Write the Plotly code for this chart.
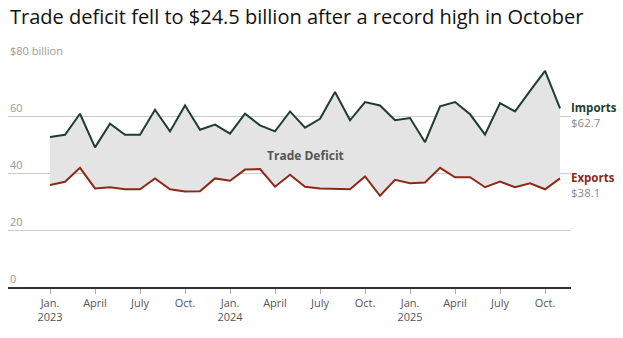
import plotly.graph_objects as go

months = list(range(35))  # Jan 2023 .. Nov 2025, monthly index
imports = [52.6, 53.4, 60.8, 49.0, 57.3, 53.4, 53.4, 62.2, 54.6, 63.7, 55.2, 57.0,
           53.8, 60.8, 56.7, 54.6, 61.6, 55.9, 59.0, 68.4, 58.5, 64.9, 63.7, 58.5,
           59.3, 50.8, 63.4, 64.9, 60.6, 53.5, 64.5, 61.6, 68.8, 75.8, 62.7]
exports = [35.8, 36.9, 41.8, 34.6, 35.0, 34.3, 34.3, 38.1, 34.3, 33.5, 33.6, 38.1,
           37.3, 41.2, 41.4, 35.2, 39.4, 35.2, 34.6, 34.4, 34.3, 38.8, 32.0, 37.6,
           36.4, 36.7, 41.8, 38.5, 38.5, 35.0, 37.0, 35.0, 36.4, 34.3, 38.1]
tick_idx = [0, 3, 6, 9, 12, 15, 18, 21, 24, 27, 30, 33]
tick_text = ["Jan.<br>2023", "April", "July", "Oct.", "Jan.<br>2024", "April", "July", "Oct.",
             "Jan.<br>2025", "April", "July", "Oct."]
y_ticks = [0, 20, 40, 60, 80]
y_labels = ["0", "20", "40", "60", "$80 billion"]

GREEN = "#1f3d2e"
RED = "#8a2a17"
GRAYTXT = "#8a8a8a"
FONT = "Open Sans"

fig = go.Figure()
# fill between series
fig.add_trace(go.Scatter(x=months, y=exports, mode="lines", line=dict(width=0, color="rgba(0,0,0,0)"),
                         hoverinfo="skip", showlegend=False))
fig.add_trace(go.Scatter(x=months, y=imports, mode="lines", line=dict(width=0, color="rgba(0,0,0,0)"),
                         fill="tonexty", fillcolor="#e4e4e4", hoverinfo="skip", showlegend=False))
fig.add_trace(go.Scatter(x=months, y=imports, mode="lines", line=dict(width=2, color=GREEN),
                         name="Imports", showlegend=False))
fig.add_trace(go.Scatter(x=months, y=exports, mode="lines", line=dict(width=2, color=RED),
                         name="Exports", showlegend=False))

ann = []
for v, t in zip(y_ticks, y_labels):
    ann.append(dict(x=0, xref="paper", y=v, yref="y", text=t, showarrow=False,
                    xanchor="left", yanchor="bottom", yshift=-1,
                    font=dict(family=FONT, size=11, color="#9a9a9a")))


def end_label(name, color, val):
    return dict(x=1, xref="paper", y=val, yref="y",
                text=f"<b>{name}</b><br><span style='color:{GRAYTXT}'>${val:.1f}</span>",
                showarrow=False, align="left", xanchor="left", yanchor="middle",
                xshift=-2, yshift=-7, font=dict(family=FONT, size=11.5, color=color))


ann += [
    end_label("Imports", GREEN, imports[-1]),
    end_label("Exports", RED, exports[-1]),
    dict(x=17, xref="x", y=46.3, yref="y", text="<b>Trade Deficit</b>", showarrow=False,
         xanchor="center", yanchor="middle", font=dict(family=FONT, size=12, color="#555555")),
]

fig.update_layout(
    width=623, height=338,
    margin=dict(l=8, r=52, t=59, b=51),
    paper_bgcolor="white", plot_bgcolor="white",
    title=dict(text="Trade deficit fell to $24.5 billion after a record high in October",
               x=10 / 623, xanchor="left", xref="container",
               y=1 - 17 / 338, yanchor="middle", yref="container",
               font=dict(family=FONT, size=20, color="#111111")),
    annotations=ann,
    xaxis=dict(range=[-2.8, 34.73], tickvals=tick_idx, ticktext=tick_text, showgrid=False,
               zeroline=False, showline=True, linecolor="#333333", linewidth=1.5,
               ticks="outside", ticklen=5, tickcolor="#aaaaaa", tickwidth=1,
               tickfont=dict(family=FONT, size=11, color="#555555")),
    yaxis=dict(range=[0, 80], tickvals=y_ticks, showticklabels=False, showgrid=True,
               gridcolor="#cccccc", gridwidth=1, zeroline=False, showline=False),
    showlegend=False,
)

fig.write_html("out.html")
